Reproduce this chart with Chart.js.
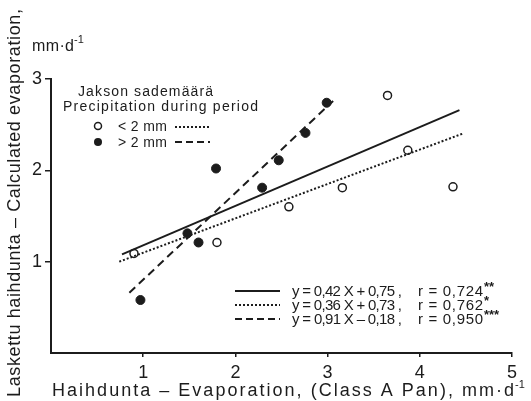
<!DOCTYPE html>
<html>
<head>
<meta charset="utf-8">
<script src="https://cdn.jsdelivr.net/npm/chart.js@4/dist/chart.umd.min.js"></script>
<style>
    html, body { margin: 0; padding: 0; background: #fff; }
    #wrap { width: 531px; height: 401px; }
</style>
</head>
<body>
<div id="wrap"><canvas id="chart" width="531" height="401"></canvas></div>
<script>
// Values
const xTicks = [0, 1, 2, 3, 4, 5];
const yTicks = [0, 1, 2, 3];

// < 2 mm precipitation (open circles)
const lowX = [0.90, 1.80, 2.58, 3.16, 3.65, 3.87, 4.36];
const lowY = [1.09, 1.21, 1.60, 1.81, 2.82, 2.22, 1.82];

// > 2 mm precipitation (filled circles)
const highX = [0.97, 1.48, 1.60, 1.79, 2.29, 2.47, 2.76, 2.99];
const highY = [0.58, 1.31, 1.21, 2.02, 1.81, 2.11, 2.41, 2.74];

// regression line end points
const allLineX = [0.77, 4.43];
const allLineY = [1.08, 2.66];
const lowLineX = [0.74, 4.46];
const lowLineY = [1.00, 2.40];
const highLineX = [0.85, 3.06];
const highLineY = [0.66, 2.76];

const INK = '#1c1c1c';
const FONT = '"Liberation Sans", Arial, sans-serif';

const toPoints = (xs, ys) => xs.map((x, i) => ({ x: x, y: ys[i] }));

/**
 * Draw text stretched to a given width with letter spacing
 */
function spaced(ctx, text, x, y, width) {
    ctx.letterSpacing = '0px';
    const w = ctx.measureText(text).width;
    const ls = text.length > 1 ? (width - w) / (text.length - 1) : 0;
    ctx.letterSpacing = ls + 'px';
    ctx.fillText(text, x, y);
    ctx.letterSpacing = '0px';
}

const textPlugin = {
    id: 'figureText',
    afterDraw(chart) {
        const ctx = chart.ctx;
        ctx.save();
        ctx.fillStyle = INK;
        ctx.strokeStyle = INK;
        ctx.textAlign = 'left';
        ctx.textBaseline = 'alphabetic';

        // y axis title (rotated)
        ctx.save();
        ctx.translate(20, 397);
        ctx.rotate(-Math.PI / 2);
        ctx.font = '18px ' + FONT;
        spaced(ctx, 'Laskettu haihdunta – Calculated evaporation,', 0, 0, 388);
        ctx.restore();

        // y unit
        ctx.font = '16px ' + FONT;
        spaced(ctx, 'mm·d', 32, 51, 42);
        ctx.font = '11px ' + FONT;
        ctx.fillText('-1', 74, 43);

        // x axis title
        ctx.font = '18px ' + FONT;
        spaced(ctx, 'Haihdunta – Evaporation, (Class A Pan), mm·d', 52, 396, 462);
        ctx.font = '11px ' + FONT;
        ctx.fillText('-1', 515, 388);

        // top left legend
        ctx.font = '14px ' + FONT;
        spaced(ctx, 'Jakson sademäärä', 78, 96, 135);
        spaced(ctx, 'Precipitation during period', 63, 111, 195);
        spaced(ctx, '< 2 mm', 118, 131, 49);
        spaced(ctx, '> 2 mm', 118, 147, 49);

        ctx.lineWidth = 1.5;
        ctx.beginPath();
        ctx.arc(98, 126, 3.5, 0, Math.PI * 2);
        ctx.fillStyle = '#fff';
        ctx.fill();
        ctx.stroke();
        ctx.fillStyle = INK;
        ctx.beginPath();
        ctx.arc(98, 142, 4, 0, Math.PI * 2);
        ctx.fill();

        ctx.lineWidth = 2;
        ctx.setLineDash([2, 2]);
        ctx.beginPath();
        ctx.moveTo(175, 127);
        ctx.lineTo(210, 127);
        ctx.stroke();
        ctx.setLineDash([7, 4]);
        ctx.beginPath();
        ctx.moveTo(175, 142);
        ctx.lineTo(210, 142);
        ctx.stroke();

        // equation legend
        const rows = [
            { y: 296, dash: [], eq: 'y = 0,42 X + 0,75 ,', r: 'r = 0,724', star: '**' },
            { y: 310, dash: [2, 2], eq: 'y = 0,36 X + 0,73 ,', r: 'r = 0,762', star: '*' },
            { y: 324, dash: [7, 4], eq: 'y = 0,91 X – 0,18 ,', r: 'r = 0,950', star: '***' }
        ];
        rows.forEach(row => {
            ctx.setLineDash(row.dash);
            ctx.lineWidth = 2;
            ctx.beginPath();
            ctx.moveTo(235, row.y - 5);
            ctx.lineTo(280, row.y - 5);
            ctx.stroke();
            ctx.setLineDash([]);
            ctx.font = '15px ' + FONT;
            spaced(ctx, row.eq, 292, row.y, 110);
            spaced(ctx, row.r, 418, row.y, 65);
            ctx.font = 'bold 13px ' + FONT;
            ctx.fillText(row.star, 484, row.y - 5);
        });

        ctx.restore();
    }
};

const tickFont = { family: FONT, size: 18 };
// hide the tick mark at the origin
const tickColor = c => (c.tick && c.tick.value === 0 ? 'rgba(0,0,0,0)' : INK);

new Chart(document.getElementById('chart'), {
    type: 'scatter',
    data: {
        datasets: [
            {
                label: 'y = 0,42x + 0,75',
                data: toPoints(allLineX, allLineY),
                showLine: true,
                borderColor: INK,
                borderWidth: 2,
                pointRadius: 0
            },
            {
                label: 'y = 0,36x + 0,73',
                data: toPoints(lowLineX, lowLineY),
                showLine: true,
                borderColor: INK,
                borderWidth: 2,
                borderDash: [2, 2],
                pointRadius: 0
            },
            {
                label: 'y = 0,91x - 0,18',
                data: toPoints(highLineX, highLineY),
                showLine: true,
                borderColor: INK,
                borderWidth: 2,
                borderDash: [8, 5],
                pointRadius: 0
            },
            {
                label: '< 2 mm',
                data: toPoints(lowX, lowY),
                pointRadius: 4,
                pointBackgroundColor: '#fff',
                pointBorderColor: INK,
                pointBorderWidth: 1.5
            },
            {
                label: '> 2 mm',
                data: toPoints(highX, highY),
                pointRadius: 4.5,
                pointBackgroundColor: INK,
                pointBorderColor: INK,
                pointBorderWidth: 1
            }
        ]
    },
    options: {
        responsive: false,
        animation: false,
        layout: { padding: { left: 0, top: 79, right: 19, bottom: 0 } },
        plugins: {
            legend: { display: false },
            tooltip: { enabled: false }
        },
        scales: {
            x: {
                type: 'linear',
                min: xTicks[0],
                max: xTicks[xTicks.length - 1],
                afterBuildTicks: s => { s.ticks = xTicks.map(v => ({ value: v })); },
                afterFit: s => { s.height = 48; },
                ticks: {
                    color: INK,
                    font: tickFont,
                    padding: 5,
                    maxRotation: 0,
                    callback: v => (v === 0 ? '' : v)
                },
                grid: { drawOnChartArea: false, tickLength: 4, color: tickColor, lineWidth: 1.5 },
                border: { color: INK, width: 2 }
            },
            y: {
                type: 'linear',
                min: yTicks[0],
                max: yTicks[yTicks.length - 1],
                afterBuildTicks: s => { s.ticks = yTicks.map(v => ({ value: v })); },
                afterFit: s => { s.width = 51; },
                ticks: {
                    color: INK,
                    font: tickFont,
                    padding: 3,
                    callback: v => (v === 0 ? '' : v)
                },
                grid: { drawOnChartArea: false, tickLength: 6, color: tickColor, lineWidth: 1.5 },
                border: { color: INK, width: 2 }
            }
        }
    },
    plugins: [textPlugin]
});
</script>
</body>
</html>
